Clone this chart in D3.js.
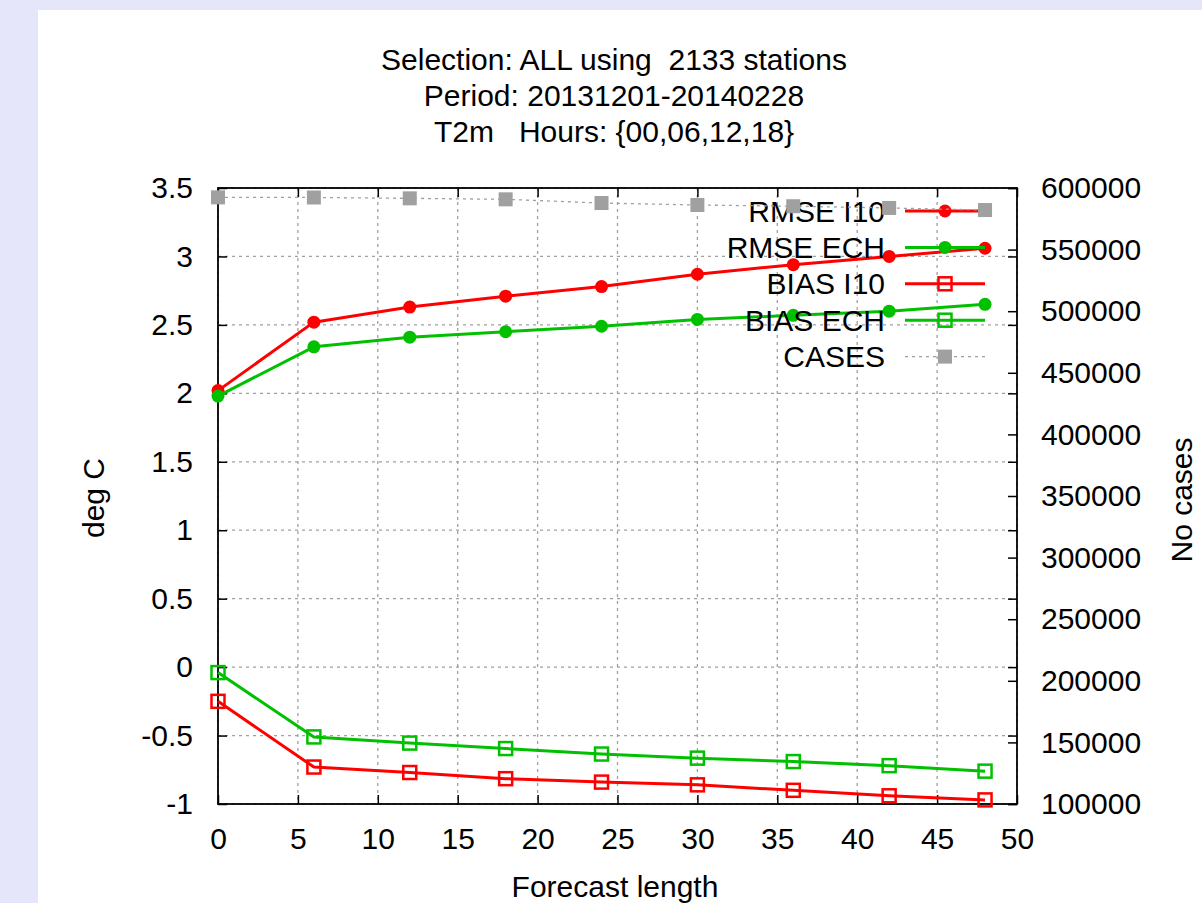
<!DOCTYPE html>
<html lang="en">
<head>
  <meta charset="UTF-8" />
  <title>T2m scores</title>
  <style>
    body {
      margin: 0;
      background-color: #e6e6fa;
      font-family: "Liberation Sans", Arial, sans-serif;
    }

    svg {
      display: block;
    }

    text {
      fill: #000;
      font-size: 30px;
    }

    .grid line {
      stroke: #a0a0a0;
      stroke-width: 1.3;
      stroke-dasharray: 3 4;
    }

    .axis line {
      stroke: #000;
      stroke-width: 1.5;
    }

    .axis path {
      display: none;
    }

    .axis text {
      font-size: 30px;
      font-family: "Liberation Sans", Arial, sans-serif;
    }
  </style>
</head>

<body>
  <svg width="1202" height="903"></svg>

  <script src="https://d3js.org/d3.v7.min.js"></script>
  <script>
    // forecast length (hours)
    const hours = [0, 6, 12, 18, 24, 30, 36, 42, 48];

    const rmseI10 = [2.02, 2.52, 2.63, 2.71, 2.78, 2.87, 2.94, 3.00, 3.06];
    const rmseECH = [1.98, 2.34, 2.41, 2.45, 2.49, 2.54, 2.57, 2.60, 2.65];
    const biasI10 = [-0.25, -0.73, -0.77, -0.815, -0.84, -0.86, -0.90, -0.94, -0.97];
    const biasECH = [-0.04, -0.51, -0.555, -0.595, -0.635, -0.665, -0.69, -0.72, -0.76];
    const cases = [592400, 592300, 591600, 590800, 587800, 586200, 585200, 583800, 582100];

    const titleLines = [
      "Selection: ALL using  2133 stations",
      "Period: 20131201-20140228",
      "T2m   Hours: {00,06,12,18}"
    ];

    const xTicks = [0, 5, 10, 15, 20, 25, 30, 35, 40, 45, 50];
    const yTicks = [-1, -0.5, 0, 0.5, 1, 1.5, 2, 2.5, 3, 3.5];
    const y2Ticks = [100000, 150000, 200000, 250000, 300000, 350000, 400000, 450000, 500000, 550000, 600000];

    const series = [
      { name: "RMSE I10", values: rmseI10, color: "#ff0000", marker: "circle" },
      { name: "RMSE ECH", values: rmseECH, color: "#00c000", marker: "circle" },
      { name: "BIAS I10", values: biasI10, color: "#ff0000", marker: "square" },
      { name: "BIAS ECH", values: biasECH, color: "#00c000", marker: "square" }
    ];

    const svg = d3.select("svg");

    // white panel
    svg.append("rect")
      .attr("x", 38)
      .attr("y", 10)
      .attr("width", 1202 - 38)
      .attr("height", 903 - 10)
      .attr("fill", "#fff");

    const pLeft = 218, pRight = 1017, pTop = 188, pBottom = 804;

    const x = d3.scaleLinear().domain([0, 50]).range([pLeft, pRight]);
    const y = d3.scaleLinear().domain([-1, 3.5]).range([pBottom, pTop]);
    const y2 = d3.scaleLinear().domain([100000, 600000]).range([pBottom, pTop]);

    // title
    titleLines.forEach((t, i) => {
      svg.append("text")
        .attr("x", 614)
        .attr("y", 70 + i * 36)
        .attr("text-anchor", "middle")
        .style("white-space", "pre")
        .text(t);
    });

    // grid
    const grid = svg.append("g").attr("class", "grid");

    grid.selectAll("line.gx")
      .data(xTicks)
      .enter()
      .append("line")
      .attr("class", "gx")
      .attr("x1", d => x(d))
      .attr("x2", d => x(d))
      .attr("y1", pTop)
      .attr("y2", pBottom);

    grid.selectAll("line.gy")
      .data(yTicks)
      .enter()
      .append("line")
      .attr("class", "gy")
      .attr("x1", pLeft)
      .attr("x2", pRight)
      .attr("y1", d => y(d))
      .attr("y2", d => y(d));

    // axes (ticks point inward, like gnuplot)
    svg.append("g")
      .attr("class", "axis")
      .attr("transform", `translate(0,${pBottom})`)
      .call(d3.axisBottom(x).tickValues(xTicks).tickSize(-9).tickPadding(24).tickFormat(d3.format("d")));

    svg.append("g")
      .attr("class", "axis")
      .attr("transform", `translate(0,${pTop})`)
      .call(d3.axisTop(x).tickValues(xTicks).tickSize(-9).tickFormat(""));

    svg.append("g")
      .attr("class", "axis")
      .attr("transform", `translate(${pLeft},0)`)
      .call(d3.axisLeft(y).tickValues(yTicks).tickSize(-9).tickPadding(25).tickFormat(d => String(d)));

    svg.append("g")
      .attr("class", "axis")
      .attr("transform", `translate(${pRight},0)`)
      .call(d3.axisRight(y).tickValues(yTicks).tickSize(-9).tickFormat(""));

    svg.append("g")
      .attr("class", "axis")
      .attr("transform", `translate(${pRight},0)`)
      .call(d3.axisRight(y2).tickValues(y2Ticks).tickSize(-9).tickPadding(24).tickFormat(d3.format("d")));

    // border
    svg.append("rect")
      .attr("x", pLeft)
      .attr("y", pTop)
      .attr("width", pRight - pLeft)
      .attr("height", pBottom - pTop)
      .attr("fill", "none")
      .attr("stroke", "#000")
      .attr("stroke-width", 1.8);

    // axis labels
    svg.append("text")
      .attr("x", 615)
      .attr("y", 897)
      .attr("text-anchor", "middle")
      .text("Forecast length");

    svg.append("text")
      .attr("transform", "translate(104,498) rotate(-90)")
      .attr("text-anchor", "middle")
      .text("deg C");

    svg.append("text")
      .attr("transform", "translate(1192,500) rotate(-90)")
      .attr("text-anchor", "middle")
      .text("No cases");

    function drawMarker(g, type, cx, cy, color) {
      if (type === "circle") {
        g.append("circle")
          .attr("cx", cx)
          .attr("cy", cy)
          .attr("r", 6.5)
          .attr("fill", color);
      } else if (type === "square") {
        g.append("rect")
          .attr("x", cx - 6.5)
          .attr("y", cy - 6.5)
          .attr("width", 13)
          .attr("height", 13)
          .attr("fill", "none")
          .attr("stroke", color)
          .attr("stroke-width", 2.5);
      } else {
        g.append("rect")
          .attr("x", cx - 7)
          .attr("y", cy - 7)
          .attr("width", 14)
          .attr("height", 14)
          .attr("fill", color);
      }
    }

    const line = d3.line();
    const keyTextX = 885, keyLineX1 = 905, keyLineX2 = 985, keyMarkX = 945;
    const keyY0 = 211, keyDy = 36.4;

    series.forEach((s, i) => {
      const g = svg.append("g");
      const pts = hours.map((h, j) => [x(h), y(s.values[j])]);

      // key entry
      const ky = keyY0 + i * keyDy;
      g.append("text")
        .attr("x", keyTextX)
        .attr("y", ky)
        .attr("dy", "0.35em")
        .attr("text-anchor", "end")
        .text(s.name);
      g.append("line")
        .attr("x1", keyLineX1)
        .attr("x2", keyLineX2)
        .attr("y1", ky)
        .attr("y2", ky)
        .attr("stroke", s.color)
        .attr("stroke-width", 3);
      drawMarker(g, s.marker, keyMarkX, ky, s.color);

      g.append("path")
        .attr("d", line(pts))
        .attr("fill", "none")
        .attr("stroke", s.color)
        .attr("stroke-width", 3)
        .attr("stroke-linejoin", "round");

      pts.forEach(p => drawMarker(g, s.marker, p[0], p[1], s.color));
    });

    // cases on the second y axis
    const gc = svg.append("g");
    const cky = keyY0 + 4 * keyDy;
    gc.append("text")
      .attr("x", keyTextX)
      .attr("y", cky)
      .attr("dy", "0.35em")
      .attr("text-anchor", "end")
      .text("CASES");
    gc.append("line")
      .attr("x1", keyLineX1)
      .attr("x2", keyLineX2)
      .attr("y1", cky)
      .attr("y2", cky)
      .attr("stroke", "#a0a0a0")
      .attr("stroke-width", 1.3)
      .attr("stroke-dasharray", "3 4");
    drawMarker(gc, "filled", keyMarkX, cky, "#a0a0a0");

    const casePts = hours.map((h, j) => [x(h), y2(cases[j])]);
    gc.append("path")
      .attr("d", line(casePts))
      .attr("fill", "none")
      .attr("stroke", "#a0a0a0")
      .attr("stroke-width", 1.3)
      .attr("stroke-dasharray", "3 4");
    casePts.forEach(p => drawMarker(gc, "filled", p[0], p[1], "#a0a0a0"));
  </script>
</body>
</html>
